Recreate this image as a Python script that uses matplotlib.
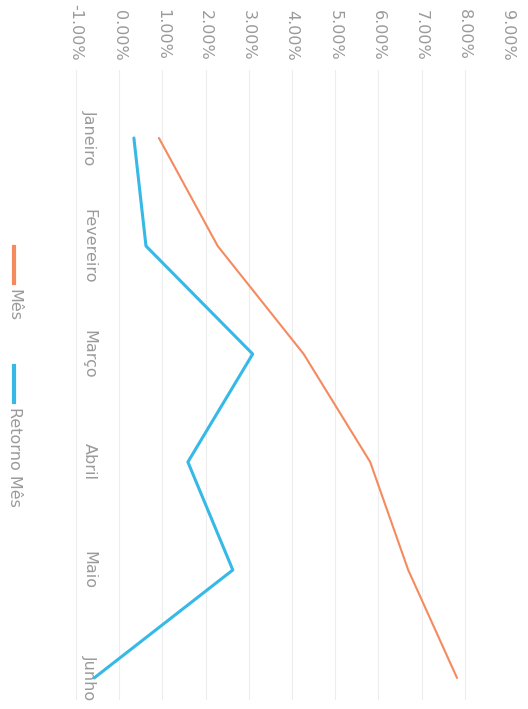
import matplotlib
matplotlib.use('Agg')
import matplotlib.pyplot as plt
from matplotlib.lines import Line2D
from matplotlib.ticker import FuncFormatter

# dados (gráfico girado 90 graus)
meses = ['Janeiro', 'Fevereiro', 'Março', 'Abril', 'Maio', 'Junho']
mes = [0.92, 2.28, 4.27, 5.81, 6.69, 7.82]
retorno_mes = [0.34, 0.62, 3.09, 1.59, 2.63, -0.58]
ticks_pct = [-1, 0, 1, 2, 3, 4, 5, 6, 7, 8, 9]

cor_mes = '#f58a5e'
cor_ret = '#36b9e6'
cor_txt = '#9a9a9a'
fs = 11.5

W, H = 528, 709
fig = plt.figure(figsize=(W / 100, H / 100), dpi=100)
ax = fig.add_axes([76 / W, 1 - 700 / H, (508 - 76) / W, 630 / H])

pos = list(range(len(meses)))
ax.plot(mes, pos, color=cor_mes, lw=1.5, solid_capstyle='round')
ax.plot(retorno_mes, pos, color=cor_ret, lw=2.2, solid_capstyle='round')

ax.set_xlim(-1, 9)
ax.set_ylim(5.204, -0.630)

# eixo de valores no topo
ax.xaxis.tick_top()
ax.set_xticks(ticks_pct)
ax.xaxis.set_major_formatter(FuncFormatter(lambda v, p: f'{v:.2f}%'))
ax.tick_params(axis='x', length=0, pad=7, labelsize=fs, labelcolor=cor_txt, labelrotation=-90)

# categorias
ax.set_yticks(pos, meses)
ax.tick_params(axis='y', length=0, pad=-15, labelsize=fs, labelcolor=cor_txt, labelrotation=-90)
for t in ax.get_yticklabels():
    t.set_va('center')

ax.grid(axis='x', color='#ededed', lw=0.8)
for s in ax.spines.values():
    s.set_visible(False)

# legenda manual (girada)
fig.add_artist(Line2D([14 / W] * 2, [1 - 247 / H, 1 - 283 / H], color=cor_mes, lw=3, transform=fig.transFigure))
fig.text(14 / W, 1 - 289 / H, 'Mês', rotation=-90, ha='center', va='top', fontsize=fs, color=cor_txt)
fig.add_artist(Line2D([14 / W] * 2, [1 - 366 / H, 1 - 402 / H], color=cor_ret, lw=3, transform=fig.transFigure))
fig.text(14 / W, 1 - 407 / H, 'Retorno Mês', rotation=-90, ha='center', va='top', fontsize=fs, color=cor_txt)

fig.savefig('out.png', dpi=100, facecolor='white')
